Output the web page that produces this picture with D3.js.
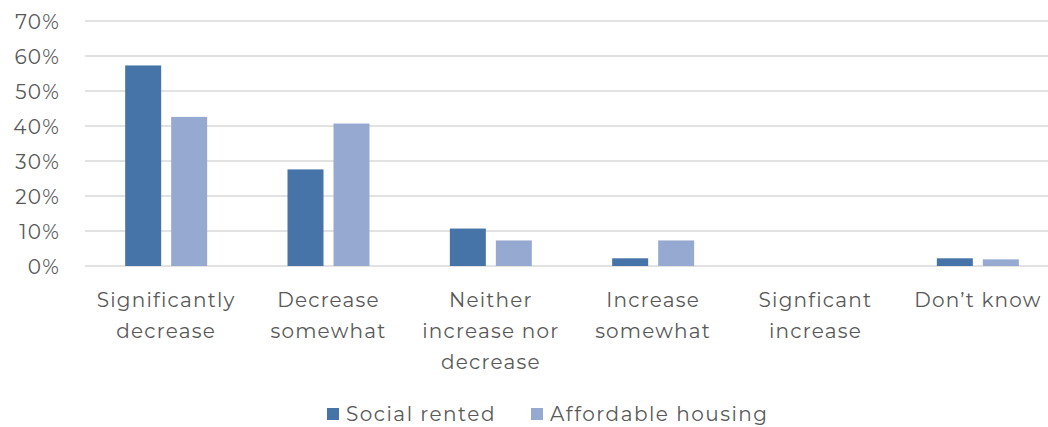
<!DOCTYPE html>
<html>
<head>
<meta charset="utf-8">
<script src="https://cdn.jsdelivr.net/npm/d3@7/dist/d3.min.js"></script>
<style>
  html, body { margin: 0; padding: 0; background: #fff; }
  svg text { font-family: "Montserrat", "DejaVu Sans", sans-serif; fill: #595959; letter-spacing: 1.2px; }
  svg .legend text { letter-spacing: 1.5px; }
</style>
</head>
<body>
<svg id="chart" width="1048" height="427"></svg>
<script>
// Categories (label lines) and the two series, as shares of respondents
const categories = [
  ["Significantly", "decrease"],
  ["Decrease", "somewhat"],
  ["Neither", "increase nor", "decrease"],
  ["Increase", "somewhat"],
  ["Signficant", "increase"],
  ["Don\u2019t know"]
];
const seriesNames = ["Social rented", "Affordable housing"];
const socialRented = [0.573, 0.276, 0.107, 0.022, 0, 0.022];
const affordableHousing = [0.426, 0.407, 0.073, 0.073, 0, 0.019];
const yTicks = [0, 0.1, 0.2, 0.3, 0.4, 0.5, 0.6, 0.7];
const colors = ["#4673a8", "#95a9d1"];

const svg = d3.select("#chart");
const keys = categories.map(c => c.join(" "));
const values = [socialRented, affordableHousing];

const x0 = d3.scaleBand().domain(keys).range([85, 1059]).padding(0);
const x1 = d3.scaleBand().domain(seriesNames).range([-41, 41]).paddingInner(10 / 46).paddingOuter(0);
const y = d3.scaleLinear().domain([0, 0.7]).range([266, 21]);

// Horizontal gridlines (including the baseline)
svg.append("g")
  .selectAll("line")
  .data(yTicks)
  .join("line")
  .attr("x1", 85)
  .attr("x2", 1048)
  .attr("y1", d => y(d))
  .attr("y2", d => y(d))
  .attr("stroke", "#d9d9d9")
  .attr("stroke-width", 1.6);

// Y axis labels
const yAxis = d3.axisLeft(y).tickValues(yTicks).tickFormat(d3.format(".0%")).tickSize(0).tickPadding(0);
const gy = svg.append("g").attr("transform", "translate(60,0)").call(yAxis);
gy.select(".domain").remove();
gy.selectAll("text")
  .attr("font-size", 20)
  .attr("dy", "0.35em")
  .style("font-family", null)
  .attr("font-family", null);

// Bars
const groups = svg.append("g")
  .selectAll("g")
  .data(keys)
  .join("g")
  .attr("transform", d => `translate(${x0(d) + x0.bandwidth() / 2},0)`);

groups.selectAll("rect")
  .data((d, i) => seriesNames.map((s, j) => ({ series: s, value: values[j][i], color: colors[j] })))
  .join("rect")
  .attr("x", d => x1(d.series))
  .attr("width", x1.bandwidth())
  .attr("y", d => y(d.value))
  .attr("height", d => y(0) - y(d.value))
  .attr("fill", d => d.color);

// Category labels (multi-line)
const labels = svg.append("g")
  .selectAll("text")
  .data(categories)
  .join("text")
  .attr("text-anchor", "middle")
  .attr("font-size", 20)
  .attr("x", (d, i) => x0(keys[i]) + x0.bandwidth() / 2)
  .attr("y", 307);
labels.selectAll("tspan")
  .data(d => d)
  .join("tspan")
  .attr("x", function () { return this.parentNode.getAttribute("x"); })
  .attr("dy", (d, i) => i === 0 ? 0 : 31)
  .text(d => d);

// Legend
const legendX = [327, 531];
const legend = svg.append("g")
  .attr("class", "legend")
  .selectAll("g")
  .data(seriesNames)
  .join("g")
  .attr("transform", (d, i) => `translate(${legendX[i]},408)`);
legend.append("rect")
  .attr("width", 12)
  .attr("height", 12)
  .attr("fill", (d, i) => colors[i]);
legend.append("text")
  .attr("x", 19)
  .attr("y", 6)
  .attr("dy", "0.35em")
  .attr("font-size", 20)
  .text(d => d);
</script>
</body>
</html>
